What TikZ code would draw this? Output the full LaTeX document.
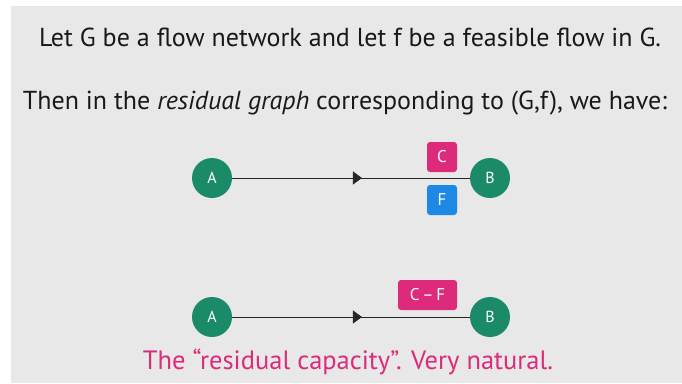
\documentclass[tikz,border=0pt]{standalone}
\usepackage{fontspec}
\setmainfont{PT Sans}
\usetikzlibrary{arrows.meta,decorations.markings}
\definecolor{bggray}{HTML}{E8E8E8}
\definecolor{nodegreen}{HTML}{1B8A68}
\definecolor{capmag}{HTML}{DD2A7B}
\definecolor{flowblue}{HTML}{1E88E5}
\tikzset{
  vert/.style={circle, fill=nodegreen, minimum size=40pt, inner sep=0pt, text=white, font=\fontsize{16}{16}\selectfont},
  lab/.style={rounded corners=3pt, text=white, inner sep=0pt, minimum height=30pt, font=\fontsize{17}{17}\selectfont},
  edge/.style={draw=black!85, line width=0.9pt, postaction={decorate},
    decoration={markings, mark=at position 0.546 with {\arrow{Triangle[length=9pt,width=13pt]}}}},
  headline/.style={font=\fontsize{26}{26}\selectfont, text=black!90}
}
\begin{document}
\begin{tikzpicture}[x=1pt,y=-1pt]
\useasboundingbox (0,0) rectangle (682,383);
\fill[white] (0,0) rectangle (682,383);
\fill[bggray] (11,6) rectangle (682,383);
\node[headline] (t1) at (350,37) {Let G be a flow network and let f be a feasible flow in G.};
\node[headline] (t2) at (345,103) {Then in the \textit{residual graph} corresponding to (G,f), we have:};
% top graph
\node[vert] (a1) at (212,178) {A};
\node[vert] (b1) at (490,178) {B};
\path[edge] (a1) -- (b1);
\node[lab, fill=capmag, minimum width=30pt] (c1) at (442,157) {C};
\node[lab, fill=flowblue, minimum width=30pt] (f1) at (442,200) {F};
% bottom graph
\node[vert] (a2) at (212,317) {A};
\node[vert] (b2) at (490,317) {B};
\path[edge] (a2) -- (b2);
\node[lab, fill=capmag, minimum width=59pt] (cf) at (427.5,295) {C\,–\,F};
\node[font=\fontsize{26.5}{26.5}\selectfont, text=capmag] (t3) at (348,362) {The “residual capacity”. Very natural.};
\end{tikzpicture}
\end{document}
